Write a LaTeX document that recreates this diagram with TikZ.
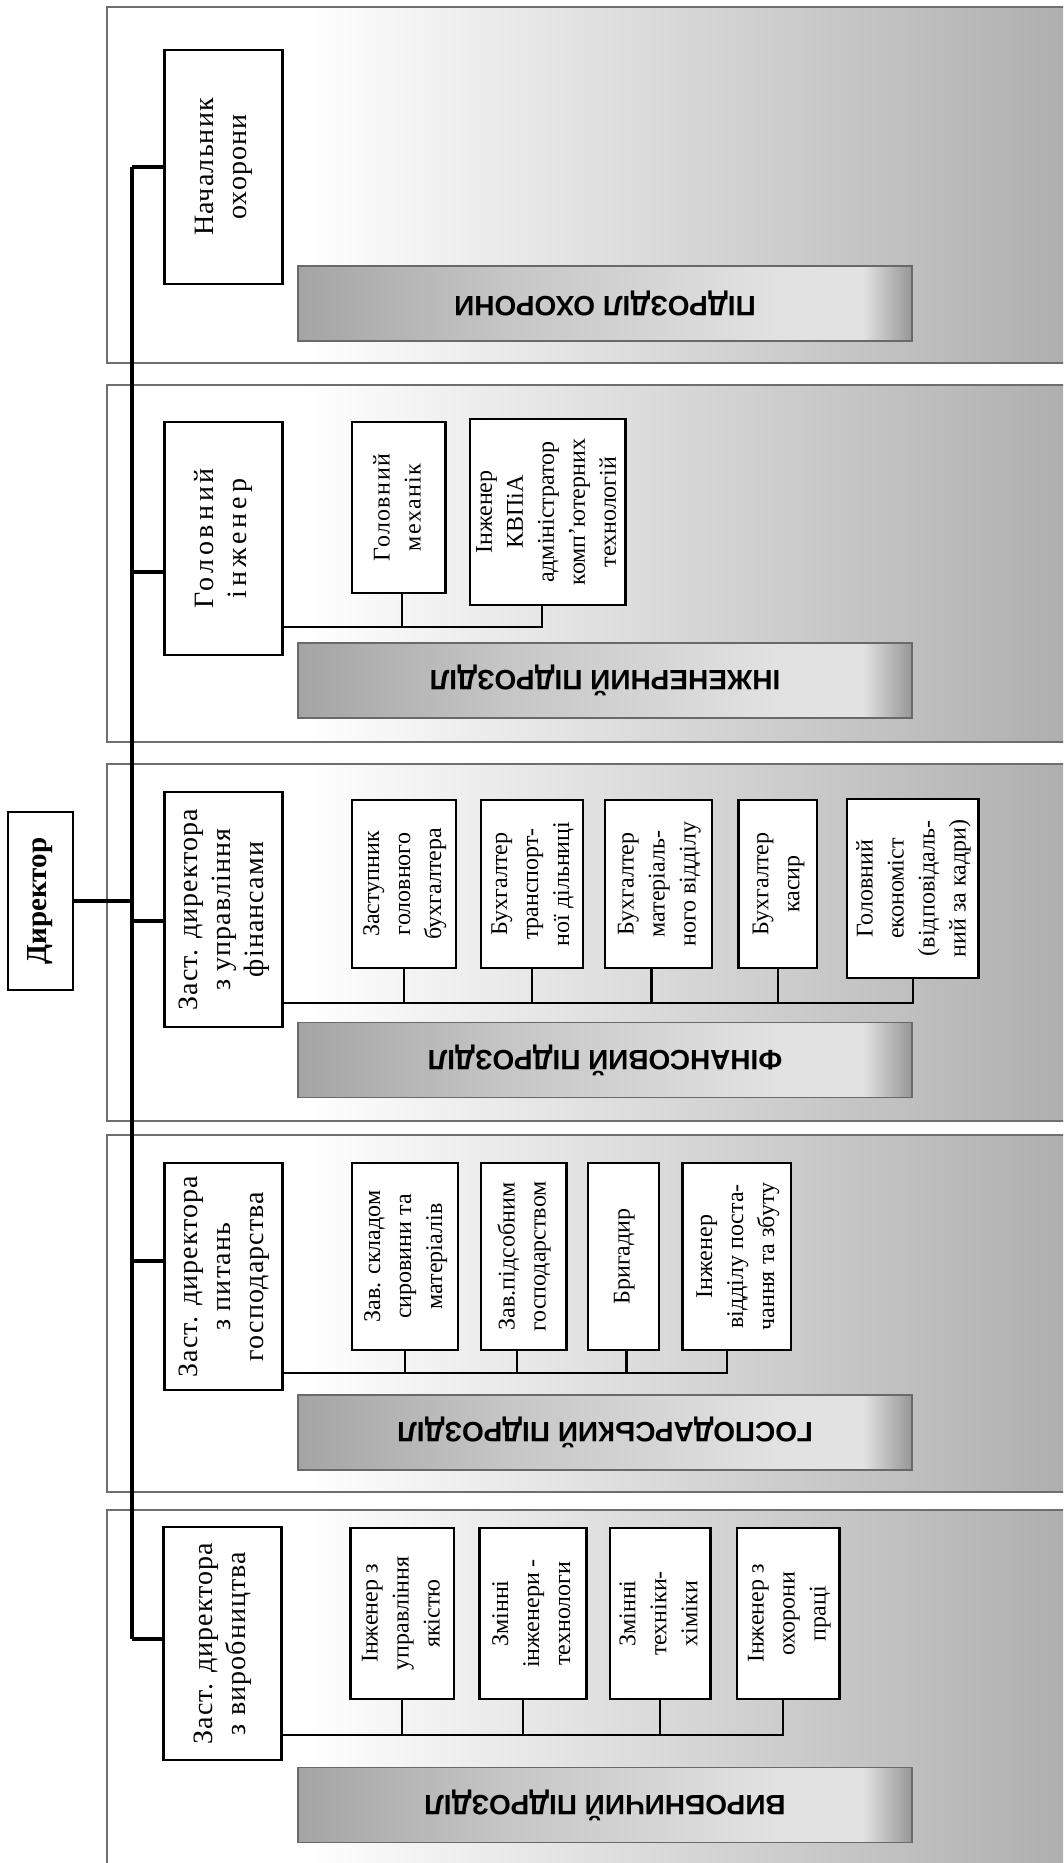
\documentclass[tikz,border=0pt]{standalone}
\usepackage{fontspec}
\setmainfont{Liberation Serif}
\newfontfamily\labfont{Liberation Sans}
\usepackage{graphicx}
\definecolor{sg}{RGB}{172,172,172}
\definecolor{secline}{RGB}{110,110,110}
\definecolor{labline}{RGB}{105,105,105}
\definecolor{lA}{RGB}{164,164,164}
\definecolor{lB}{RGB}{198,198,198}
\definecolor{lC}{RGB}{226,226,226}
\definecolor{lD}{RGB}{150,150,150}
\pgfdeclarehorizontalshading{secsh}{100bp}{color(0bp)=(white); color(35bp)=(white); color(75bp)=(sg); color(100bp)=(sg)}
\pgfdeclarehorizontalshading{labsh}{100bp}{color(0bp)=(lA); color(25bp)=(lA); color(42bp)=(lB); color(64bp)=(lC); color(71bp)=(lC); color(75bp)=(lD); color(100bp)=(lD)}
\newcommand\vt[1]{\rotatebox{90}{\begin{tabular}{@{}c@{}}#1\end{tabular}}}
\begin{document}
\begin{tikzpicture}[x=1pt,y=-1pt,
  box/.style={draw=black, line width=2.8pt, fill=white, inner sep=0pt, font=\fontsize{24}{31}\selectfont},
  mainbox/.style={box, minimum width=118pt, font=\fontsize{28}{33}\selectfont\addfontfeatures{LetterSpace=4}},
  lab/.style={shade, shading=labsh, draw=labline, line width=1.8pt, minimum width=614pt, minimum height=75pt, inner sep=0pt},
  labtext/.style={font=\labfont\bfseries\fontsize{28}{32}\selectfont, rotate=180, inner sep=0pt},
  sec/.style={shade, shading=secsh, draw=secline, line width=2.2pt},
  conn/.style={line width=3.4pt},
  bus/.style={line width=2.3pt}]
\useasboundingbox (0,0) rectangle (1063,1863);
\clip (0,0) rectangle (1063,1863);
% sections
\path[sec] (107,7) rectangle (1090,363);
\path[sec] (107,385) rectangle (1090,742);
\path[sec] (107,764) rectangle (1090,1121);
\path[sec] (107,1135) rectangle (1090,1492);
\path[sec] (107,1510) rectangle (1090,1910);
% labels
\node[lab] (lab1) at (605,303.5) {};
\node[labtext] (lab1t) at (lab1.center) {ПІДРОЗДІЛ ОХОРОНИ};
\node[lab] (lab2) at (605,680.5) {};
\node[labtext] (lab2t) at (lab2.center) {ІНЖЕНЕРНИЙ ПІДРОЗДІЛ};
\node[lab] (lab3) at (605,1060) {};
\node[labtext] (lab3t) at (lab3.center) {ФІНАНСОВИЙ ПІДРОЗДІЛ};
\node[lab] (lab4) at (605,1432.5) {};
\node[labtext] (lab4t) at (lab4.center) {ГОСПОДАРСЬКИЙ ПІДРОЗДІЛ};
\node[lab] (lab5) at (605,1805) {};
\node[labtext] (lab5t) at (lab5.center) {ВИРОБНИЧИЙ ПІДРОЗДІЛ};
% director
\node[box, font=\bfseries\fontsize{29}{34}\selectfont, minimum width=65pt, minimum height=178pt] (dir) at (40.5,901) {\rotatebox{90}{Директор}};
% heads
\node[mainbox, minimum height=234pt] (nach) at (223.5,167) {\vt{Начальник\\охорони}};
\node[mainbox, minimum height=233pt] (heng) at (223.5,538.5) {\addfontfeatures{LetterSpace=14}\vt{Головний\\інженер}};
\node[mainbox, minimum height=235pt] (zdfin) at (223.5,909.5) {\vt{Заст. директора\\з управління\\фінансами}};
\node[mainbox, minimum height=227pt] (zdgosp) at (223.5,1276.5) {\vt{Заст. директора\\з питань\\господарства}};
\node[mainbox, minimum height=233pt] (zdvyr) at (222.5,1643.5) {\vt{Заст. директора\\з виробництва}};
% engineering
\node[box, minimum width=93.6pt, minimum height=171pt] (mech) at (398.8,507.5) {\addfontfeatures{LetterSpace=6}\vt{Головний\\механік}};
\node[box, minimum width=155.5pt, minimum height=186pt] (kvp) at (547.75,512) {\vt{Інженер\\КВПіА\\адміністратор\\комп’ютерних\\технологій}};
% finance
\node[box, minimum width=104pt, minimum height=168pt] (zgb) at (404,884) {\vt{Заступник\\головного\\бухгалтера}};
\node[box, minimum width=102pt, minimum height=168pt] (btd) at (532,884) {\vt{Бухгалтер\\транспорт-\\ної дільниці}};
\node[box, minimum width=107pt, minimum height=168pt] (bmv) at (658.5,884) {\vt{Бухгалтер\\матеріаль-\\ного відділу}};
\node[box, minimum width=78.5pt, minimum height=168pt] (bk) at (777.75,884) {\vt{Бухгалтер\\касир}};
\node[box, minimum width=131.6pt, minimum height=179pt] (ge) at (912.8,888.5) {\vt{Головний\\економіст\\(відповідаль-\\ний за кадри)}};
% household
\node[box, minimum width=106pt, minimum height=187pt] (zs) at (405,1256.5) {\vt{Зав. складом\\сировини та\\матеріалів}};
\node[box, minimum width=85.6pt, minimum height=187pt] (zp) at (523.8,1256.5) {\vt{Зав.підсобним\\господарством}};
\node[box, minimum width=71pt, minimum height=187pt] (br) at (623.5,1256.5) {\vt{Бригадир}};
\node[box, minimum width=108.4pt, minimum height=187pt] (iv) at (736.8,1256.5) {\vt{Інженер\\відділу поста-\\чання та збуту}};
% production
\node[box, minimum width=103.4pt, minimum height=171pt] (iuy) at (402.3,1613.5) {\vt{Інженер з\\управління\\якістю}};
\node[box, minimum width=106.7pt, minimum height=171pt] (zit) at (533,1613.5) {\vt{Змінні\\інженери -\\технологи}};
\node[box, minimum width=100.5pt, minimum height=171pt] (zth) at (660.25,1613.5) {\vt{Змінні\\техніки-\\хіміки}};
\node[box, minimum width=102.6pt, minimum height=171pt] (iop) at (788.3,1613.5) {\vt{Інженер з\\охорони\\праці}};
% trunk
\coordinate (tt) at (132,167);
\coordinate (tb) at (132,1639);
\coordinate (c2) at (132,572);
\coordinate (c3) at (132,921);
\coordinate (c4) at (132,1261);
\draw[conn] (tt) -- (tb);
\draw[conn] (dir.east) -- (dir.east -| tt);
\draw[conn] (tt) -- (nach.west |- tt);
\draw[conn] (c2) -- (heng.west |- c2);
\draw[conn] (c3) -- (zdfin.west |- c3);
\draw[conn] (c4) -- (zdgosp.west |- c4);
\draw[conn] (tb) -- (zdvyr.west |- tb);
% buses
\coordinate (b2) at (0,627);
\coordinate (b3) at (0,1003);
\coordinate (b4) at (0,1373);
\coordinate (b5) at (0,1735);
\draw[bus] (heng.east |- b2) -| ([xshift=-6pt]kvp.south);
\draw[bus] ([xshift=3pt]mech.south) -- ([xshift=3pt]mech.south |- b2);
\draw[bus] (zdfin.east |- b3) -| (ge.south);
\draw[bus] (zgb.south) -- (zgb.south |- b3);
\draw[bus] (btd.south) -- (btd.south |- b3);
\draw[bus] ([xshift=-7pt]bmv.south) -- ([xshift=-7pt]bmv.south |- b3);
\draw[bus] (bk.south) -- (bk.south |- b3);
\draw[bus] (zdgosp.east |- b4) -| ([xshift=-9.5pt]iv.south);
\draw[bus] (zs.south) -- (zs.south |- b4);
\draw[bus] ([xshift=-7pt]zp.south) -- ([xshift=-7pt]zp.south |- b4);
\draw[bus] ([xshift=3pt]br.south) -- ([xshift=3pt]br.south |- b4);
\draw[bus] (zdvyr.east |- b5) -| ([xshift=-5pt]iop.south);
\draw[bus] (iuy.south) -- (iuy.south |- b5);
\draw[bus] ([xshift=-10pt]zit.south) -- ([xshift=-10pt]zit.south |- b5);
\draw[bus] (zth.south) -- (zth.south |- b5);
\end{tikzpicture}
\end{document}
